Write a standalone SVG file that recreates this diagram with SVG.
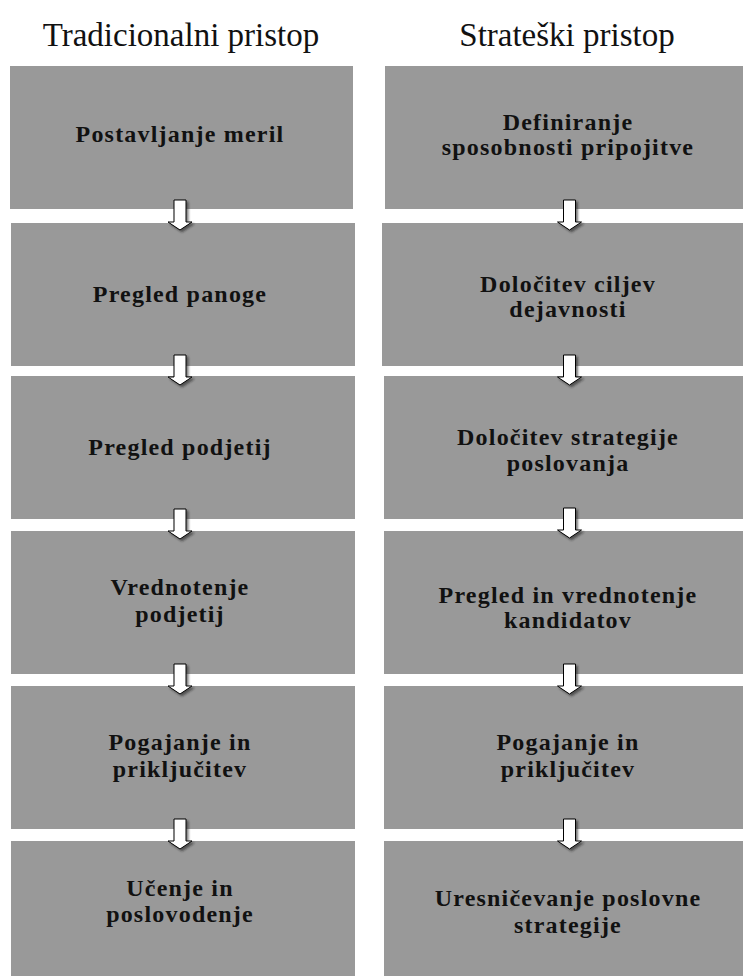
<svg xmlns="http://www.w3.org/2000/svg" width="743" height="976" viewBox="0 0 743 976">
  <style>
    .box { fill: #999999; }
    .title { font-family: "Liberation Serif", "Times New Roman", serif; font-size: 33px; fill: #111111; text-anchor: middle; }
    .lbl { font-family: "Liberation Serif", "Times New Roman", serif; font-size: 24px; font-weight: bold; letter-spacing: 1.2px; fill: #111111; text-anchor: middle; }
    .arrow { fill: #ffffff; stroke: #000000; stroke-width: 1; filter: url(#shadow); }
  </style>
  <defs>
    <filter id="shadow" x="-50%" y="-50%" width="200%" height="200%">
      <feDropShadow dx="2" dy="2" stdDeviation="1" flood-color="#222222" flood-opacity="0.6"/>
    </filter>
    <!-- block arrow pointing down, origin at top centre of the shaft -->
    <path id="down" d="M-6,0 H6 V22 H12 L0,30 L-12,22 H-6 Z"/>
  </defs>
  <rect width="743" height="976" fill="#ffffff"/>

  <text class="title" x="181" y="46">Tradicionalni pristop</text>
  <text class="title" x="567" y="46">Strateški pristop</text>

  <!-- left column -->
  <g id="t1"><rect class="box" x="10" y="66" width="343" height="143"/>
    <text class="lbl" x="180" y="142">Postavljanje meril</text></g>
  <g id="t2"><rect class="box" x="11" y="223" width="344" height="143"/>
    <text class="lbl" x="180" y="302">Pregled panoge</text></g>
  <g id="t3"><rect class="box" x="11" y="376" width="344" height="143"/>
    <text class="lbl" x="180" y="455">Pregled podjetij</text></g>
  <g id="t4"><rect class="box" x="11" y="531" width="344" height="143"/>
    <text class="lbl" x="180" y="595">Vrednotenje</text>
    <text class="lbl" x="180" y="622">podjetij</text></g>
  <g id="t5"><rect class="box" x="11" y="686" width="344" height="143"/>
    <text class="lbl" x="180" y="750">Pogajanje in</text>
    <text class="lbl" x="180" y="777">priključitev</text></g>
  <g id="t6"><rect class="box" x="11" y="841" width="344" height="135"/>
    <text class="lbl" x="180" y="896">Učenje in</text>
    <text class="lbl" x="180" y="922">poslovodenje</text></g>

  <!-- right column -->
  <g id="s1"><rect class="box" x="385" y="66" width="358" height="143"/>
    <text class="lbl" x="568" y="130">Definiranje</text>
    <text class="lbl" x="568" y="155">sposobnosti pripojitve</text></g>
  <g id="s2"><rect class="box" x="382" y="223" width="361" height="143"/>
    <text class="lbl" x="568" y="292">Določitev ciljev</text>
    <text class="lbl" x="568" y="317">dejavnosti</text></g>
  <g id="s3"><rect class="box" x="384" y="376" width="359" height="143"/>
    <text class="lbl" x="568" y="445">Določitev strategije</text>
    <text class="lbl" x="568" y="471">poslovanja</text></g>
  <g id="s4"><rect class="box" x="384" y="531" width="359" height="143"/>
    <text class="lbl" x="568" y="603">Pregled in vrednotenje</text>
    <text class="lbl" x="568" y="628">kandidatov</text></g>
  <g id="s5"><rect class="box" x="384" y="686" width="359" height="143"/>
    <text class="lbl" x="568" y="750">Pogajanje in</text>
    <text class="lbl" x="568" y="777">priključitev</text></g>
  <g id="s6"><rect class="box" x="384" y="841" width="359" height="135"/>
    <text class="lbl" x="568" y="906">Uresničevanje poslovne</text>
    <text class="lbl" x="568" y="933">strategije</text></g>

  <!-- connectors -->
  <g id="connectors">
    <use href="#down" class="arrow" x="180" y="200"/>
    <use href="#down" class="arrow" x="180" y="355"/>
    <use href="#down" class="arrow" x="180" y="509"/>
    <use href="#down" class="arrow" x="180" y="664"/>
    <use href="#down" class="arrow" x="180" y="819"/>
    <use href="#down" class="arrow" x="569.5" y="200"/>
    <use href="#down" class="arrow" x="569.5" y="355"/>
    <use href="#down" class="arrow" x="569.5" y="508"/>
    <use href="#down" class="arrow" x="569.5" y="664"/>
    <use href="#down" class="arrow" x="569.5" y="819"/>
  </g>
</svg>
